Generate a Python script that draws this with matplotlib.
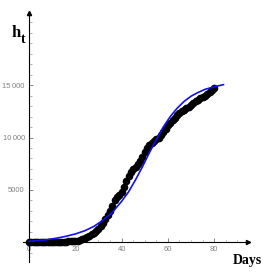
import numpy as np
import matplotlib.pyplot as plt
from matplotlib.ticker import MultipleLocator, FixedLocator

# Datos observados (un punto por dia)
days = np.arange(0, 81)
h_obs = [0, 0, 0, 0, 0, 0, 5, 10, 10, 15, 20, 25, 30, 35, 40, 50, 55, 60, 70, 80,
         100, 150, 200, 270, 350, 470, 600, 750, 900, 1100,
         1300, 1550, 1850, 2200, 2600, 3000, 3500, 4000, 4300, 4550,
         4800, 5300, 5800, 6300, 6700, 6950, 7200, 7450, 7800, 8150,
         8600, 8950, 9250, 9500, 9700, 9850, 10000, 10250, 10550, 10850,
         11150, 11400, 11650, 11900, 12150, 12350, 12500, 12650, 12800, 12950,
         13100, 13300, 13450, 13600, 13750, 13900, 14000, 14150, 14350, 14550,
         14700]

# Curva ajustada
t_fit = [0, 4, 8, 12, 16, 20, 24, 28, 32, 36, 40, 43, 46, 49, 52, 55, 58,
         61, 64, 67, 70, 73, 76, 80, 84]
h_fit = [80, 150, 240, 380, 560, 780, 1080, 1500, 2100, 2850, 3900, 4800,
         5950, 7200, 8550, 9800, 11000, 12000, 12800, 13450, 13950, 14300,
         14600, 14850, 15050]

x_ticks = [0, 20, 40, 60, 80]
y_ticks = [5000, 10000, 15000]
y_labels = ['5000', '10\u2009000', '15\u2009000']

fig = plt.figure(figsize=(2.73, 2.72), dpi=100)
ax = fig.add_axes([23/273, 10/272, 225/273, 249/272])
ax.set_xlim(-2.6, 94.6)
ax.set_ylim(-1900, 21900)

ax.plot(days, h_obs, 'o', color='black', markersize=4.5, zorder=2)
ax.plot(t_fit, h_fit, '-', color='#1010f0', linewidth=1.2, zorder=3)

# Ejes cruzando en el origen, estilo Mathematica
for s in ['top', 'right']:
    ax.spines[s].set_visible(False)
ax.spines['left'].set_position(('data', 0))
ax.spines['bottom'].set_position(('data', 0))
ax.spines['left'].set_linewidth(0.8)
ax.spines['bottom'].set_linewidth(0.8)

ax.xaxis.set_major_locator(FixedLocator(x_ticks))
ax.xaxis.set_minor_locator(MultipleLocator(5))
ax.yaxis.set_major_locator(FixedLocator(y_ticks))
ax.yaxis.set_minor_locator(MultipleLocator(1000))
ax.set_xticklabels([str(v) for v in x_ticks])
ax.set_yticklabels(y_labels)
ax.tick_params(which='major', direction='in', length=3, width=0.5, color='#555555',
               labelsize=5.5, labelcolor='#808080', pad=3)
ax.tick_params(which='minor', direction='in', length=1.8, width=0.4, color='#777777')
for lab in ax.get_xticklabels() + ax.get_yticklabels():
    lab.set_family('Liberation Sans')

# flechas en los extremos de los ejes
ax.plot(1, 0, '>', color='black', markersize=3, transform=ax.get_yaxis_transform(), clip_on=False)
ax.plot(0, 1, '^', color='black', markersize=3, transform=ax.get_xaxis_transform(), clip_on=False)

fig.text(12/273, 1 - 37/272, 'h', family='Liberation Serif', weight='bold', fontsize=12)
fig.text(21/273, 1 - 43/272, 't', family='Liberation Serif', weight='bold', fontsize=10)
fig.text(233/273, 1 - 264/272, 'Days', family='Liberation Serif', weight='bold', fontsize=10)

fig.savefig('out.png', dpi=100)
